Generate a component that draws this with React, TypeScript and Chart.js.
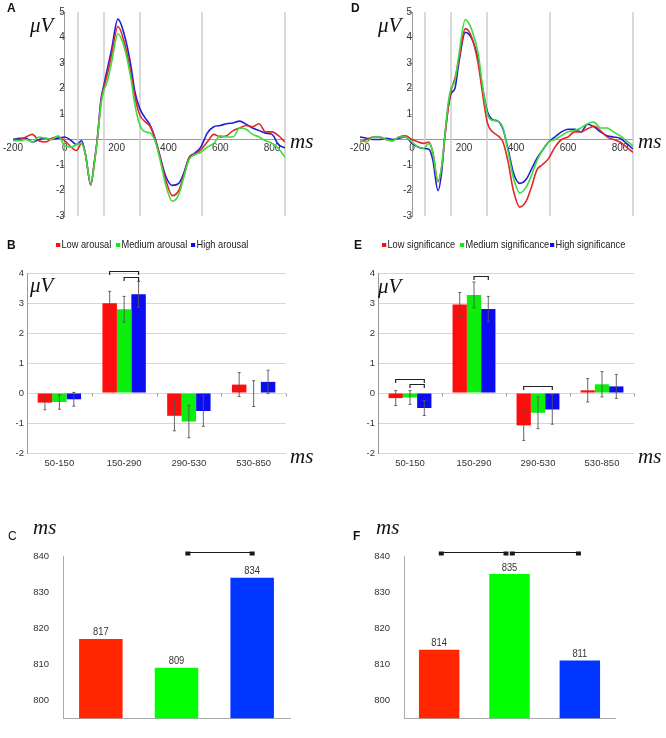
import React, { useEffect, useRef } from 'react';
import { Chart, registerables } from 'chart.js';

Chart.register(...registerables);

// ---------- DATA ----------
const erpTimes = [-200, -175, -150, -125, -100, -75, -50, -25, 0, 25, 45, 65, 80, 100, 115, 125, 140, 150, 165, 180, 205, 230, 255, 270, 290, 310, 330, 350, 370, 390, 415, 440, 460, 480, 500, 525, 550, 575, 600, 625, 650, 675, 700, 725, 750, 775, 800, 825, 850];

// Panel A (arousal)
const arousalLowWave = [0.0, 0.0, 0.1, 0.2, -0.05, -0.1, 0.05, 0.1, -0.05, -0.3, -0.43, -0.15, -0.6, -1.75, -0.85, -0.05, 1.5, 2.0, 2.6, 3.3, 4.43, 3.8, 2.6, 1.7, 0.95, 0.7, 0.5, -0.05, -0.8, -1.6, -2.2, -2.0, -1.4, -0.72, -0.6, -0.4, -0.1, 0.2, 0.1, 0.15, 0.35, 0.45, 0.55, 0.5, 0.62, 0.3, 0.3, 0.15, -0.1];
const arousalMediumWave = [-0.05, -0.05, 0.0, -0.1, 0.1, 0.05, 0.0, 0.15, -0.25, -0.3, -0.2, -0.15, -0.6, -1.75, -0.85, -0.05, 1.4, 1.9, 2.3, 3.0, 4.15, 3.6, 2.4, 1.4, 0.55, 0.3, 0.25, -0.1, -0.9, -1.8, -2.42, -2.15, -1.45, -0.78, -0.6, -0.5, -0.3, -0.15, 0.15, 0.1, 0.1, 0.45, 0.4, 0.2, 0.1, -0.05, -0.15, -0.35, -0.7];
const arousalHighWave = [0.0, 0.05, 0.05, -0.1, 0.0, 0.05, 0.0, 0.05, 0.1, -0.05, -0.2, -0.05, -0.6, -1.78, -0.8, 0.0, 1.6, 2.1, 2.8, 3.5, 4.72, 4.1, 2.9, 1.9, 1.2, 0.85, 0.55, 0.0, -0.75, -1.45, -1.8, -1.72, -1.3, -0.7, -0.55, -0.3, 0.25, 0.5, 0.55, 0.62, 0.65, 0.72, 0.6, 0.45, 0.35, 0.25, 0.2, -0.2, -0.33];

// Panel D (significance)
const signifLowWave = [-0.1, 0.0, 0.1, 0.1, 0.0, -0.05, 0.1, 0.15, 0.0, -0.1, -0.15, -0.1, -0.5, -1.65, -1.0, -0.05, 1.3, 1.9, 2.4, 3.1, 4.35, 4.0, 2.95, 1.9, 0.65, 0.3, 0.15, -0.1, -0.9, -2.0, -2.65, -2.4, -1.85, -1.2, -1.0, -0.75, -0.3, 0.0, 0.1, 0.3, 0.3, 0.42, 0.52, 0.35, 0.1, 0.0, -0.1, -0.3, -0.5];
const signifMediumWave = [-0.05, -0.1, 0.1, 0.1, 0.0, -0.05, 0.1, 0.1, -0.1, -0.3, -0.35, -0.15, -0.5, -1.65, -1.0, 0.0, 1.5, 2.0, 2.3, 3.3, 4.7, 4.3, 3.35, 2.2, 1.0, 0.75, 0.72, 0.45, -0.5, -1.5, -2.1, -1.85, -1.4, -0.85, -0.45, -0.1, 0.0, 0.15, 0.3, 0.35, 0.45, 0.62, 0.68, 0.45, 0.45, 0.3, 0.15, -0.05, -0.25];
const signifHighWave = [0.1, 0.05, 0.0, 0.0, 0.05, 0.0, 0.05, 0.1, -0.15, -0.3, -0.35, -0.38, -0.8, -2.0, -1.2, 0.0, 1.3, 1.8, 2.0, 3.0, 4.2, 3.95, 3.1, 2.1, 1.1, 0.78, 0.72, 0.4, -0.4, -1.3, -1.72, -1.55, -1.15, -0.75, -0.45, -0.1, 0.1, 0.3, 0.4, 0.4, 0.3, 0.6, 0.5, 0.3, 0.15, 0.1, 0.05, -0.15, -0.37];

const windowBounds = [50, 150, 290, 530, 850];
const erpXTicks = [-200, 0, 200, 400, 600, 800];
const erpYTicks = [-3, -2, -1, 0, 1, 2, 3, 4, 5];

// Panels B / E (mean amplitudes per window)
const windows = ['50-150', '150-290', '290-530', '530-850'];
const meanYTicks = [-2, -1, 0, 1, 2, 3, 4];

const arousalLowMean = [-0.32, 2.99, -0.76, 0.28];
const arousalMediumMean = [-0.3, 2.79, -0.95, -0.02];
const arousalHighMean = [-0.21, 3.29, -0.6, 0.37];
const arousalLowErr = [0.24, 0.4, 0.5, 0.4];
const arousalMediumErr = [0.24, 0.43, 0.54, 0.43];
const arousalHighErr = [0.23, 0.43, 0.51, 0.39];

const signifLowMean = [-0.17, 2.95, -1.08, 0.09];
const signifMediumMean = [-0.15, 3.27, -0.66, 0.29];
const signifHighMean = [-0.5, 2.8, -0.55, 0.22];
const signifLowErr = [0.25, 0.4, 0.5, 0.39];
const signifMediumErr = [0.23, 0.43, 0.53, 0.42];
const signifHighErr = [0.25, 0.42, 0.49, 0.4];

// brackets: group index, from-series, to-series, level (µV)
const arousalMeanBrackets = [
  { group: 1, from: 0, to: 2, value: 4.07 },
  { group: 1, from: 1, to: 2, value: 3.88 },
];
const signifMeanBrackets = [
  { group: 0, from: 0, to: 2, value: 0.48 },
  { group: 0, from: 1, to: 2, value: 0.31 },
  { group: 1, from: 1, to: 2, value: 3.91 },
  { group: 2, from: 0, to: 2, value: 0.25 },
];

// Panels C / F (latency, ms)
const latencyConds = ['Low', 'Medium', 'High'];
const latencyYTicks = [800, 810, 820, 830, 840];
const arousalLatency = [817, 809, 834];
const signifLatency = [814, 835, 811];
const arousalLatencyBrackets = [{ from: 1.15, to: 2.0, value: 841 }];
const signifLatencyBrackets = [
  { from: 0.03, to: 0.95, value: 841 },
  { from: 1.04, to: 1.98, value: 841 },
];

// ---------- STYLE ----------
const SANS = "'Liberation Sans', Arial, sans-serif";
const SERIF = "'Liberation Serif', 'DejaVu Serif', serif";
const TICK_FONT = { family: SANS, size: 9.5 };
const TICK_COLOR = '#333';
const WAVE_RED = '#e2262b';
const WAVE_GREEN = '#3cdc3c';
const WAVE_BLUE = '#1f1fd6';
const BAR_RED = '#ff0c0c';
const BAR_GREEN = '#0cef0c';
const BAR_BLUE = '#0c0cf2';
const LAT_RED = '#ff2600';
const LAT_GREEN = '#00ff00';
const LAT_BLUE = '#0036ff';

const fixTicks = (vals: number[]) => (s: any) => {
  s.ticks = vals.map((v) => ({ value: v }));
};

const windowLinesPlugin = {
  id: 'windowLines',
  beforeDatasetsDraw(chart: any) {
    const { ctx, chartArea, scales } = chart;
    ctx.save();
    ctx.strokeStyle = '#cdcdcd';
    ctx.lineWidth = 1.5;
    windowBounds.forEach((b) => {
      const px = Math.round(scales.x.getPixelForValue(b));
      ctx.beginPath();
      ctx.moveTo(px, chartArea.top);
      ctx.lineTo(px, chartArea.bottom);
      ctx.stroke();
    });
    ctx.restore();
  },
};

function erpConfig(low: number[], med: number[], high: number[], padding: any) {
  const pts = (vals: number[]) => erpTimes.map((t, i) => ({ x: t, y: vals[i] }));
  const line = (label: string, vals: number[], color: string) => ({
    label,
    data: pts(vals),
    borderColor: color,
    backgroundColor: color,
    borderWidth: 1.6,
    pointRadius: 0,
    cubicInterpolationMode: 'monotone',
    fill: false,
  });
  return {
    type: 'line',
    data: {
      datasets: [line('Medium', med, WAVE_GREEN), line('Low', low, WAVE_RED), line('High', high, WAVE_BLUE)],
    },
    options: {
      responsive: false,
      animation: false,
      layout: { padding },
      plugins: { legend: { display: false }, tooltip: { enabled: false } },
      scales: {
        x: {
          type: 'linear',
          min: -200,
          max: 850,
          position: { y: 0 },
          afterBuildTicks: fixTicks(erpXTicks),
          grid: { display: false, drawTicks: false, tickLength: 0 },
          border: { color: '#9a9a9a', width: 1 },
          ticks: { font: { family: SANS, size: 10 }, color: TICK_COLOR, padding: 3, maxRotation: 0, autoSkip: false },
        },
        y: {
          type: 'linear',
          min: -3,
          max: 5,
          position: { x: 0 },
          afterBuildTicks: fixTicks(erpYTicks),
          grid: { drawOnChartArea: false, tickLength: 3, color: '#9a9a9a' },
          border: { color: '#9a9a9a', width: 1 },
          ticks: {
            font: { family: SANS, size: 10 },
            color: TICK_COLOR,
            padding: 1,
            callback: (v: any) => (v === 0 ? '' : String(v)),
          },
        },
      },
    },
    plugins: [windowLinesPlugin],
  };
}

const errorBarPlugin = {
  id: 'errorBars',
  afterDatasetsDraw(chart: any) {
    const { ctx, scales } = chart;
    ctx.save();
    ctx.strokeStyle = '#555';
    ctx.lineWidth = 0.9;
    chart.data.datasets.forEach((ds: any, i: number) => {
      const meta = chart.getDatasetMeta(i);
      meta.data.forEach((bar: any, j: number) => {
        const v = ds.data[j];
        const e = ds.errors[j];
        const x = bar.x;
        const y1 = scales.y.getPixelForValue(v + e);
        const y2 = scales.y.getPixelForValue(v - e);
        ctx.beginPath();
        ctx.moveTo(x, y1);
        ctx.lineTo(x, y2);
        ctx.moveTo(x - 1.5, y1);
        ctx.lineTo(x + 1.5, y1);
        ctx.moveTo(x - 1.5, y2);
        ctx.lineTo(x + 1.5, y2);
        ctx.stroke();
      });
    });
    ctx.restore();
  },
};

const zeroTicksPlugin = {
  id: 'zeroTicks',
  afterDatasetsDraw(chart: any) {
    const { ctx, scales } = chart;
    const y0 = Math.round(scales.y.getPixelForValue(0)) + 0.5;
    ctx.save();
    ctx.strokeStyle = '#a0a0a0';
    ctx.lineWidth = 1;
    for (let k = 1; k <= windows.length; k++) {
      const x = Math.round(scales.x.getPixelForValue(k - 0.5)) + 0.5;
      ctx.beginPath();
      ctx.moveTo(x, y0);
      ctx.lineTo(x, y0 + 3);
      ctx.stroke();
    }
    ctx.restore();
  },
};

const meanBracketPlugin = (brackets: any[]) => ({
  id: 'meanBrackets',
  afterDatasetsDraw(chart: any) {
    const { ctx, scales } = chart;
    ctx.save();
    ctx.strokeStyle = '#222';
    ctx.lineWidth = 1.2;
    brackets.forEach((b) => {
      const x1 = chart.getDatasetMeta(b.from).data[b.group].x;
      const x2 = chart.getDatasetMeta(b.to).data[b.group].x;
      const y = Math.round(scales.y.getPixelForValue(b.value)) + 0.5;
      ctx.beginPath();
      ctx.moveTo(x1, y + 3.5);
      ctx.lineTo(x1, y);
      ctx.lineTo(x2, y);
      ctx.lineTo(x2, y + 3.5);
      ctx.stroke();
    });
    ctx.restore();
  },
});

function meanConfig(
  low: number[], med: number[], high: number[],
  lowE: number[], medE: number[], highE: number[],
  labels: string[], brackets: any[], yWidth: number, padRight: number,
) {
  const ds = (label: string, data: number[], errors: number[], color: string) => ({
    label, data, errors, backgroundColor: color, borderWidth: 0,
    categoryPercentage: 0.67, barPercentage: 1.0,
  });
  return {
    type: 'bar',
    data: {
      labels: windows,
      datasets: [ds(labels[0], low, lowE, BAR_RED), ds(labels[1], med, medE, BAR_GREEN), ds(labels[2], high, highE, BAR_BLUE)],
    },
    options: {
      responsive: false,
      animation: false,
      layout: { padding: { left: 0, right: padRight, top: 43, bottom: 7 } },
      plugins: { legend: { display: false }, tooltip: { enabled: false } },
      scales: {
        x: {
          type: 'category',
          grid: { display: false, drawTicks: false, tickLength: 0 },
          border: { display: false },
          ticks: { font: TICK_FONT, color: TICK_COLOR, padding: 5 },
          afterFit: (s: any) => { s.height = 20; },
        },
        y: {
          min: -2,
          max: 4,
          afterBuildTicks: fixTicks(meanYTicks),
          grid: { color: '#d6d6d6', drawTicks: false, lineWidth: 1 },
          border: { color: '#9a9a9a' },
          ticks: { font: TICK_FONT, color: TICK_COLOR, padding: 3 },
          afterFit: (s: any) => { s.width = yWidth; },
        },
      },
    },
    plugins: [zeroTicksPlugin, errorBarPlugin, meanBracketPlugin(brackets)],
  };
}

const valueLabelPlugin = {
  id: 'valueLabels',
  afterDatasetsDraw(chart: any) {
    const { ctx } = chart;
    const ds = chart.data.datasets[0];
    const meta = chart.getDatasetMeta(0);
    ctx.save();
    ctx.fillStyle = '#333';
    ctx.font = `11px ${SANS}`;
    ctx.textAlign = 'center';
    ctx.textBaseline = 'bottom';
    meta.data.forEach((bar: any, j: number) => {
      ctx.save();
      ctx.translate(bar.x, bar.y - 1);
      ctx.scale(0.85, 1);
      ctx.fillText(String(ds.data[j]), 0, 0);
      ctx.restore();
    });
    ctx.restore();
  },
};

const latencyBracketPlugin = (brackets: any[]) => ({
  id: 'latencyBrackets',
  afterDatasetsDraw(chart: any) {
    const { ctx, scales } = chart;
    ctx.save();
    ctx.strokeStyle = '#1a1a1a';
    ctx.fillStyle = '#1a1a1a';
    ctx.lineWidth = 1.2;
    brackets.forEach((b) => {
      const x1 = scales.x.getPixelForValue(b.from);
      const x2 = scales.x.getPixelForValue(b.to);
      const y = Math.round(scales.y.getPixelForValue(b.value)) + 0.5;
      ctx.beginPath();
      ctx.moveTo(x1, y);
      ctx.lineTo(x2, y);
      ctx.stroke();
      ctx.fillRect(x1 - 2.5, y - 1, 5, 4);
      ctx.fillRect(x2 - 2.5, y - 1, 5, 4);
    });
    ctx.restore();
  },
});

function latencyConfig(values: number[], brackets: any[], yWidth: number, padRight: number) {
  return {
    type: 'bar',
    data: {
      labels: latencyConds,
      datasets: [{ label: 'Latency', data: values, backgroundColor: [LAT_RED, LAT_GREEN, LAT_BLUE], borderWidth: 0, categoryPercentage: 1.0, barPercentage: 0.575 }],
    },
    options: {
      responsive: false,
      animation: false,
      layout: { padding: { left: 0, right: padRight, top: 76, bottom: 4 } },
      plugins: { legend: { display: false }, tooltip: { enabled: false } },
      scales: {
        x: {
          type: 'category',
          grid: { display: false, drawTicks: false },
          border: { color: '#aaaaaa' },
          ticks: { display: false },
          afterFit: (s: any) => { s.height = 0; },
        },
        y: {
          min: 795,
          max: 840,
          afterBuildTicks: fixTicks(latencyYTicks),
          grid: { display: false, drawTicks: false },
          border: { color: '#aaaaaa' },
          ticks: { font: TICK_FONT, color: TICK_COLOR, padding: 14 },
          afterFit: (s: any) => { s.width = yWidth; },
        },
      },
    },
    plugins: [valueLabelPlugin, latencyBracketPlugin(brackets)],
  };
}

// ---------- COMPONENTS ----------
function ChartBox({ config, left, top, width, height }: any) {
  const ref = useRef<HTMLCanvasElement | null>(null);
  useEffect(() => {
    if (!ref.current) return;
    const chart = new Chart(ref.current, config);
    return () => chart.destroy();
  }, []);
  return (
    <div style={{ position: 'absolute', left, top, width, height }}>
      <canvas ref={ref} width={width} height={height} style={{ display: 'block', width, height }} />
    </div>
  );
}

function Txt({ left, top, size, children, bold, italic, family }: any) {
  return (
    <div
      style={{
        position: 'absolute', left, top, fontSize: size, lineHeight: 1,
        fontFamily: family || SANS,
        fontWeight: bold ? 'bold' : 'normal', fontStyle: italic ? 'italic' : 'normal',
        color: '#111', whiteSpace: 'nowrap',
      }}
    >
      {children}
    </div>
  );
}

function LegendItem({ left, color, label }: any) {
  return (
    <div style={{ position: 'absolute', left, top: 239, fontFamily: SANS, fontSize: 11, lineHeight: 1, color: '#222', whiteSpace: 'nowrap', transform: 'scaleX(0.84)', transformOrigin: 'left top' }}>
      <span style={{ display: 'inline-block', width: 4.5, height: 4, background: color, marginRight: 2, verticalAlign: 1 }} />
      {label}
    </div>
  );
}

export default function App() {
  return (
    <div style={{ position: 'absolute', left: 0, top: 0, width: 666, height: 738, background: '#fff', overflow: 'hidden' }}>
      <ChartBox config={erpConfig(arousalLowWave, arousalMediumWave, arousalHighWave, { left: 12, right: 48, top: 12, bottom: 14 })} left={0} top={0} width={333} height={230} />
      <ChartBox config={erpConfig(signifLowWave, signifMediumWave, signifHighWave, { left: 27, right: 33, top: 12, bottom: 14 })} left={333} top={0} width={333} height={230} />
      <ChartBox config={meanConfig(arousalLowMean, arousalMediumMean, arousalHighMean, arousalLowErr, arousalMediumErr, arousalHighErr, ['Low arousal', 'Medium arousal', 'High arousal'], arousalMeanBrackets, 27, 47)} left={0} top={230} width={333} height={250} />
      <ChartBox config={meanConfig(signifLowMean, signifMediumMean, signifHighMean, signifLowErr, signifMediumErr, signifHighErr, ['Low significance', 'Medium significance', 'High significance'], signifMeanBrackets, 45, 32)} left={333} top={230} width={333} height={250} />
      <ChartBox config={latencyConfig(arousalLatency, arousalLatencyBrackets, 63, 43)} left={0} top={480} width={333} height={258} />
      <ChartBox config={latencyConfig(signifLatency, signifLatencyBrackets, 71, 51)} left={333} top={480} width={333} height={258} />

      <Txt left={7} top={2} size={12} bold>A</Txt>
      <Txt left={351} top={2} size={12} bold>D</Txt>
      <Txt left={7} top={239} size={12} bold>B</Txt>
      <Txt left={354} top={239} size={12} bold>E</Txt>
      <Txt left={8} top={530} size={12}>C</Txt>
      <Txt left={353} top={530} size={12} bold>F</Txt>

      <Txt left={30} top={15} size={21} italic family={SERIF}>μV</Txt>
      <Txt left={378} top={15} size={21} italic family={SERIF}>μV</Txt>
      <Txt left={290} top={131} size={21} italic family={SERIF}>ms</Txt>
      <Txt left={638} top={131} size={21} italic family={SERIF}>ms</Txt>

      <Txt left={30} top={275} size={21} italic family={SERIF}>μV</Txt>
      <Txt left={378} top={276} size={21} italic family={SERIF}>μV</Txt>
      <Txt left={290} top={446} size={21} italic family={SERIF}>ms</Txt>
      <Txt left={638} top={446} size={21} italic family={SERIF}>ms</Txt>

      <Txt left={33} top={517} size={21} italic family={SERIF}>ms</Txt>
      <Txt left={376} top={517} size={21} italic family={SERIF}>ms</Txt>

      <LegendItem left={56} color={BAR_RED} label="Low arousal" />
      <LegendItem left={116} color={BAR_GREEN} label="Medium arousal" />
      <LegendItem left={191} color={BAR_BLUE} label="High arousal" />
      <LegendItem left={382} color={BAR_RED} label="Low significance" />
      <LegendItem left={460} color={BAR_GREEN} label="Medium significance" />
      <LegendItem left={550} color={BAR_BLUE} label="High significance" />
    </div>
  );
}
